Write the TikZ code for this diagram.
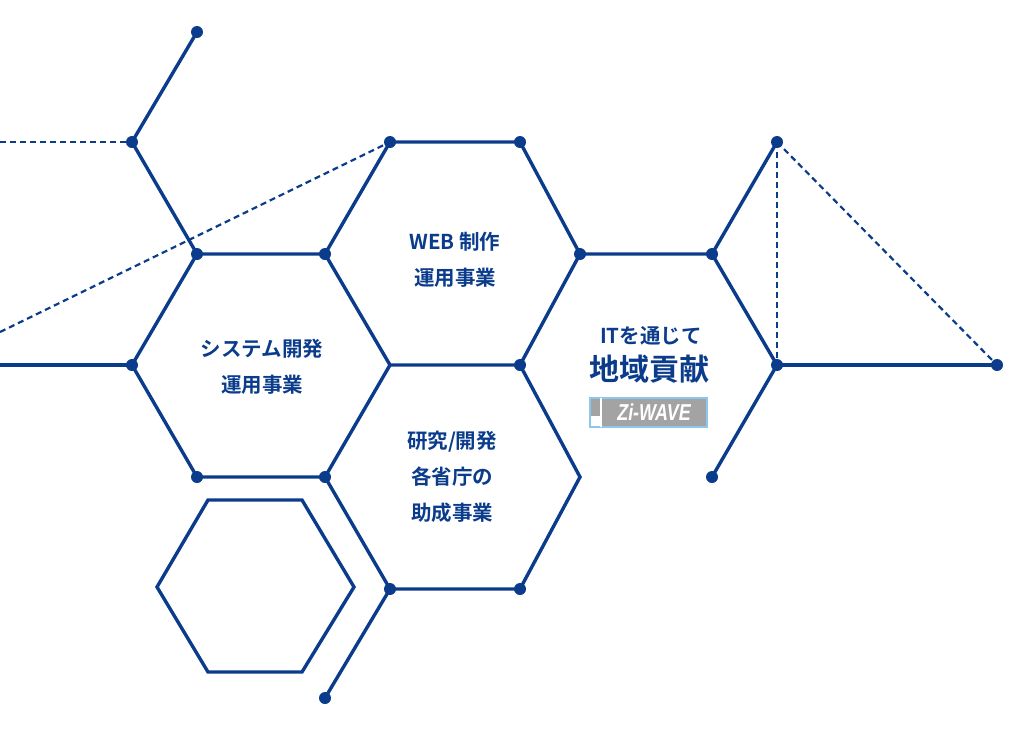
\documentclass[tikz,border=0pt]{standalone}
\usepackage{fontspec}
\newfontfamily\cjk{Noto Sans CJK JP Bold}
\newfontfamily\logofont{Liberation Sans}
\definecolor{hexblue}{HTML}{0B3C8C}
\definecolor{logoblue}{HTML}{8CC8EC}
\definecolor{logogray}{HTML}{A3A3A3}
\tikzset{
  hexline/.style={line width=3.4pt,hexblue,line cap=round},
  hexdash/.style={line width=2.2pt,hexblue,dash pattern=on 6pt off 4pt},
  knot/.style={circle,fill=hexblue,inner sep=0pt,minimum size=12pt},
  hexlabel/.style={font=\cjk\fontsize{20.5}{36}\selectfont,text=hexblue,align=center}
}
\begin{document}
\begin{tikzpicture}[x=1pt,y=-1pt]
\useasboundingbox (0,0) rectangle (1025,745);
% knots
\foreach \n/\x/\y in {a/197/32,b/132/142,c/390/142,d/520/142,e/777/142,
  f/197/254,g/325/254,h/580/254,i/712/254,j/132/365,k/520/365,l/777/365,
  m/997/365,n/197/477,o/325/477,p/712/477,q/390/589,r/520/589,s/325/698}
  \node[knot] (\n) at (\x,\y) {};
\coordinate (u) at (390,365);
\coordinate (v) at (580,477);
\coordinate (w0) at (0,142);
\coordinate (w1) at (0,365);
\coordinate (w2) at (0,332);
% solid edges
\draw[hexline] (a.center)--(b.center)--(f.center)--(g.center)--(c.center)--(d.center)--(h.center)--(k.center)--(u)--(g.center);
\draw[hexline] (f.center)--(j.center)--(n.center)--(o.center)--(u);
\draw[hexline] (w1)--(j.center);
\draw[hexline] (o.center)--(q.center)--(r.center)--(v)--(k.center);
\draw[hexline] (q.center)--(s.center);
\draw[hexline] (h.center)--(i.center)--(e.center);
\draw[hexline] (i.center)--(l.center)--(p.center);
\draw[hexline] (l.center)--(m.center);
% dashed edges
\draw[hexdash] (w0)--(b.center);
\draw[hexdash] (w2)--(c.center);
\draw[hexdash] (e.center)--(l.center);
\draw[hexdash] (e.center)--(m.center);
% loose hexagon
\draw[hexline] (208,500)--(302,500)--(354,587)--(302,672)--(208,672)--(157,587)--cycle;
% labels
\node[hexlabel] (web) at (455,260) {WEB 制作\\運用事業};
\node[hexlabel] (sys) at (262,367) {システム開発\\運用事業};
\node[hexlabel] (lab) at (452,477) {研究/開発\\各省庁の\\助成事業};
\node[hexlabel] (it) at (651,336) {ITを通じて};
\node[font=\cjk\fontsize{30}{32}\selectfont,text=hexblue] (chiiki) at (649,369) {地域貢献};
% logo
\draw[logoblue,line width=1.2pt,fill=logogray] (590,398) rectangle (707,427);
\fill[white] (591,416) rectangle (600,426);
\draw[white,line width=1.5pt] (601,398)--(601,427);
\node[font=\logofont\bfseries\itshape\fontsize{23}{23}\selectfont,text=white,xscale=0.78] (logo) at (654,412) {Zi-WAVE};
\end{tikzpicture}
\end{document}
